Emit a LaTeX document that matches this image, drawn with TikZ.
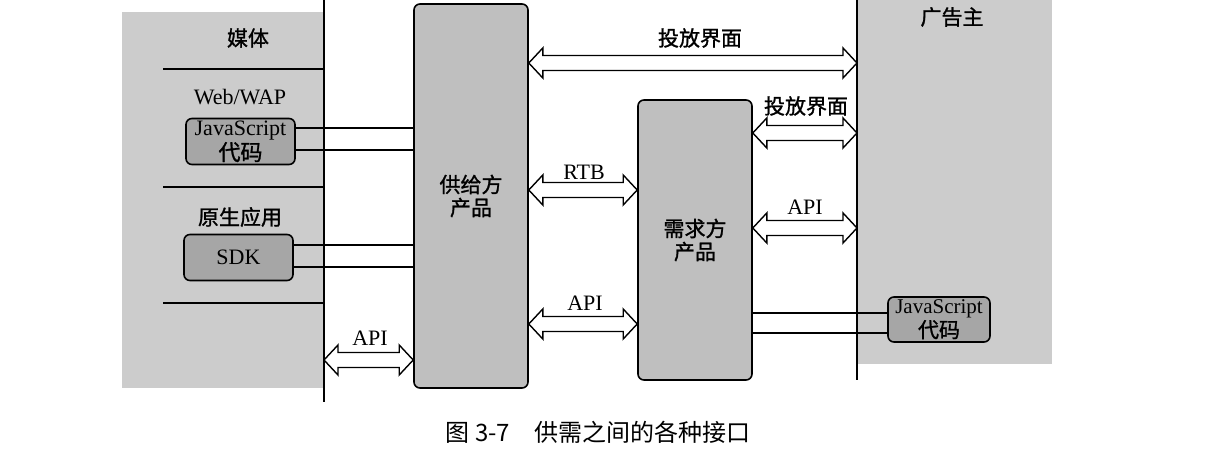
\documentclass[tikz,border=0pt]{standalone}
\usepackage{fontspec}
\setmainfont{Liberation Serif}
\newfontfamily\cjk{Noto Sans CJK SC}
\newfontfamily\cjkm{Noto Sans CJK SC}[FakeBold=1.2]
\usetikzlibrary{calc}

% hollow double arrow between two x positions at height #3
\newcommand{\fatarrow}[3]{%
    \draw[fat arrow] let \p1=(#1 |- 0,#3), \p2=(#2 |- 0,#3) in
        (\x1,\y1) -- ++(7pt,7.5pt) -- ++(0,-3.75pt) -- (\x2-7pt,\y1+3.75pt)
        -- ++(0,3.75pt) -- (\x2,\y1) -- ++(-7pt,-7.5pt) -- ++(0,3.75pt)
        -- (\x1+7pt,\y1-3.75pt) -- ++(0,-3.75pt) -- cycle;}

\begin{document}
\begin{tikzpicture}[
        x=0.5pt, y=-0.5pt,
        line width=0.8pt,
        every node/.style={font=\fontsize{11}{11}\selectfont, inner sep=1pt},
        panel/.style={fill=gray!40},
        product/.style={draw, fill=gray!50, rounded corners=3pt, align=center,
            minimum width=57pt, font=\cjkm\fontsize{10.5}{11.5}\selectfont},
        codebox/.style={draw, fill=gray!70, rounded corners=3pt, align=center,
            minimum width=54.5pt, minimum height=23pt},
        fat arrow/.style={draw, fill=white, line width=0.7pt, line join=miter},
        label/.style={font=\cjkm\fontsize{10.5}{11}\selectfont},
    ]
        \useasboundingbox (0,0) rectangle (1216,454);

        % Background panels
        \fill[panel] (122,12) rectangle (324,388);
        \fill[panel] (857,0) rectangle (1052,364);

        % Vertical borders
        \coordinate (lline) at (324,0);
        \coordinate (rline) at (857,0);
        \draw[line width=1pt] (lline) -- (324,402);
        \draw[line width=1pt] (rline) -- (857,380);

        % Media side
        \node[label] (media) at (248,38) {媒体};
        \draw (163,69) -- (lline |- 0,69);
        \node (web) at (240,97) {Web/WAP};
        \node[codebox] (jsl) at (240.5,141.5) {JavaScript\\\cjkm 代码};
        \draw (163,187) -- (lline |- 0,187);
        \node[label] (native) at (240,217) {原生应用};
        \node[codebox] (sdk) at (238.5,257.5) {SDK};
        \draw (163,303) -- (lline |- 0,303);

        % Products
        \node[product, minimum height=192pt] (sup) at (471,196) {供给方\\产品};
        \node[product, minimum height=140pt] (dem) at (695,240) {需求方\\产品};

        % Advertiser side
        \node[label] (adv) at (952,17) {广告主};
        \node[codebox, minimum width=51pt, minimum height=22.5pt,
            font=\fontsize{10.5}{10.5}\selectfont] (jsr) at (939,319.5) {JavaScript\\\cjkm 代码};

        % Code connections
        \foreach \y in {128,150} {
            \draw (jsl.east |- 0,\y) -- (sup.west |- 0,\y);
        }
        \foreach \y in {245,267} {
            \draw (sdk.east |- 0,\y) -- (sup.west |- 0,\y);
        }
        \foreach \y in {313,333} {
            \draw (dem.east |- 0,\y) -- (jsr.west |- 0,\y);
        }

        % Interfaces
        \fatarrow{sup.east}{rline}{63}
        \node[label] (ui1) at (700,38) {投放界面};
        \fatarrow{dem.east}{rline}{133}
        \node[label] (ui2) at (806,106) {投放界面};
        \fatarrow{sup.east}{dem.west}{190}
        \node (rtb) at (584,172) {RTB};
        \fatarrow{dem.east}{rline}{228}
        \node (api1) at (805,207) {API};
        \fatarrow{sup.east}{dem.west}{324}
        \node (api2) at (585,303) {API};
        \fatarrow{lline}{sup.west}{360}
        \node (api3) at (370,338) {API};

        % Caption
        \node[font=\cjk\fontsize{12}{12}\selectfont] (cap) at (598,432) {图 3-7\quad 供需之间的各种接口};
    \end{tikzpicture}
\end{document}
